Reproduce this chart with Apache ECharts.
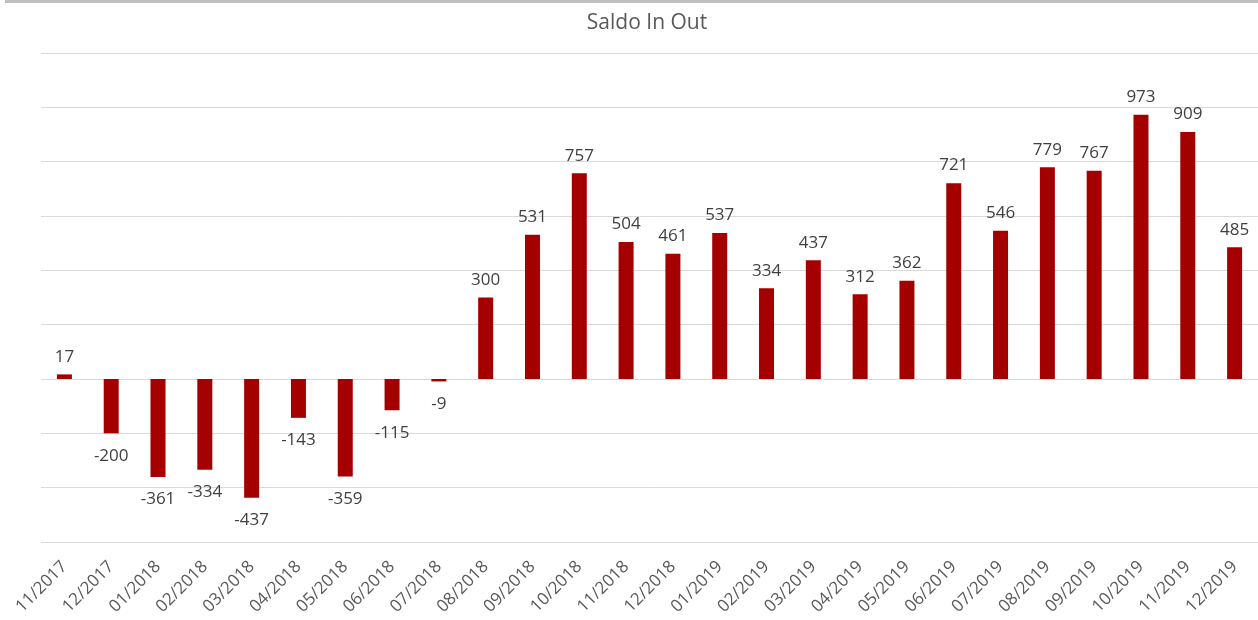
<!DOCTYPE html>
<html>
<head>
<meta charset="utf-8">
<script src="https://cdn.jsdelivr.net/npm/echarts@6/dist/echarts.min.js"></script>
<style>
html,body{margin:0;padding:0;background:#fff;}
#c{width:1258px;height:620px;}
</style>
</head>
<body>
<div id="c"></div>
<script>
const categories = ["11/2017","12/2017","01/2018","02/2018","03/2018","04/2018","05/2018","06/2018","07/2018","08/2018","09/2018","10/2018","11/2018","12/2018","01/2019","02/2019","03/2019","04/2019","05/2019","06/2019","07/2019","08/2019","09/2019","10/2019","11/2019","12/2019"];
const saldo = [17,-200,-361,-334,-437,-143,-359,-115,-9,300,531,757,504,461,537,334,437,312,362,721,546,779,767,973,909,485];
const titleText = "Saldo In Out";

const chart = echarts.init(document.getElementById('c'));
const font = "'Open Sans', 'Noto Sans', sans-serif";
chart.setOption({
  backgroundColor: '#fff',
  animation: false,
  title: {
    text: titleText, left: 642, top: 8, textAlign: 'center',
    textStyle: {fontFamily: font, fontSize: 21, fontWeight: 'normal', color: '#595959'}
  },
  graphic: [{
    type: 'rect', shape: {x: 5, y: 0, width: 1253, height: 3},
    style: {fill: '#bfbfbf'}
  }],
  grid: {left: 41, top: 53, width: 1223.5, height: 489, containLabel: false},
  xAxis: {
    type: 'category', data: categories,
    axisLine: {show: false}, axisTick: {show: false},
    axisLabel: {rotate: 45, interval: 0, margin: 22, color: '#595959', fontFamily: font, fontSize: 17}
  },
  yAxis: {
    type: 'value', min: -600, max: 1200, interval: 200,
    axisLabel: {show: false}, axisLine: {show: false}, axisTick: {show: false},
    splitLine: {lineStyle: {color: '#d9d9d9', width: 1}}
  },
  series: [{
    type: 'bar', barWidth: 15,
    data: saldo.map(v => ({value: v, label: v < 0 ? {position: 'bottom', distance: 14} : {position: 'top', distance: 9}})),
    itemStyle: {color: '#a50000'},
    label: {show: true, color: '#404040', fontFamily: font, fontSize: 17}
  }]
});
</script>
</body>
</html>
